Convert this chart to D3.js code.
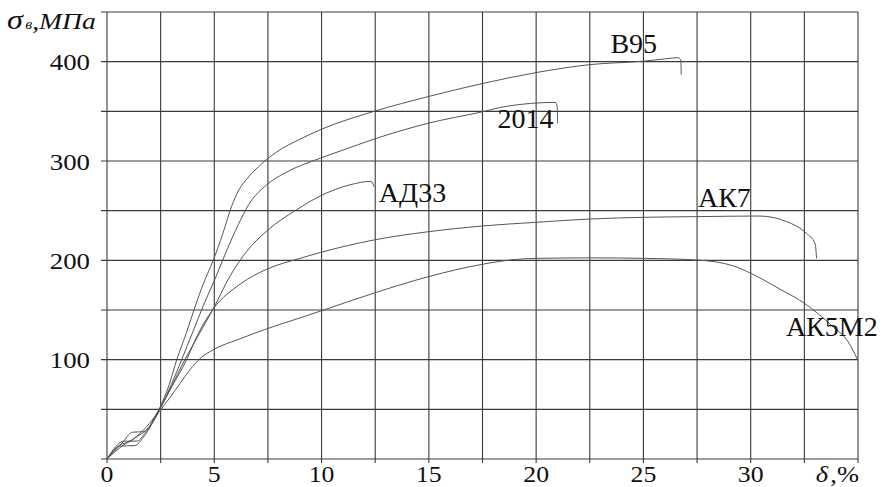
<!DOCTYPE html>
<html>
<head>
<meta charset="utf-8">
<script src="https://cdn.jsdelivr.net/npm/d3@7"></script>
<style>
  body { margin: 0; background: #fff; }
  text { font-family: "Liberation Serif", "DejaVu Serif", serif; fill: #111; }
</style>
</head>
<body>
<div id="chart"></div>
<script>
const width = 886, height = 487;
const margin = { top: 12, right: 28, bottom: 28, left: 107 };

// tick values
const xTicks = [0, 5, 10, 15, 20, 25, 30];
const yTicks = [100, 200, 300, 400];

// curves: [δ %, σв MPa]
const b95 = [[0,0],[0.7,16],[1.2,27],[1.7,27.5],[2.3,45],[2.9,75],[3.25,100],[3.7,127],[4.1,153],[4.5,177],[4.95,200],[5.4,227],[5.8,254],[6.15,271],[6.6,284],[7.2,297],[7.9,309],[9,322],[10,332],[12.45,350],[15,365],[17.5,378],[20,389],[22.5,397],[25,400.5],[26.1,403],[26.6,404],[26.74,402],[26.76,387]];
const al2014 = [[0,0],[0.6,13],[1.3,13.5],[1.7,22],[2.45,50],[3.0,75],[3.48,100],[4.0,128],[4.5,155],[5.03,181],[5.58,210],[6.12,236],[6.6,256],[7.44,276],[8.3,288],[9.96,303],[11,311],[12.44,322],[14.97,338],[17.49,349.5],[18.6,355],[20.9,359],[20.98,355],[21,338]];
const ad33 = [[0,0],[0.8,18],[1.4,18],[1.8,27],[2.45,50],[3.0,73],[3.63,100],[4.3,126],[4.97,152],[5.73,184],[6.51,209],[7.47,230],[8.84,251],[9.96,265],[11.32,276],[12.3,279.5],[12.45,274]];
const ak7 = [[0,0],[0.6,14],[1.1,18],[1.5,25],[2.45,50],[3.0,72],[3.71,100],[4.2,124],[4.95,151],[6.2,176],[7.44,191],[8.99,202],[9.96,208],[12.44,220.5],[14.97,228.8],[17.49,234.6],[20.02,238.3],[22.5,241.6],[25,243.3],[27.5,244],[30.4,244.6],[31.67,239],[32.6,227],[33.0,217],[33.07,202]];
const ak5m2 = [[0,0],[0.7,13],[1.2,20],[2.0,33],[2.45,48],[2.94,62],[3.4,76],[3.87,90],[4.33,101],[4.95,110],[6.2,121],[7.44,131],[8.99,142],[9.96,149],[12.44,167],[14.97,183.5],[17.49,196],[19.09,201],[20.02,202],[22.5,202.5],[25,202],[27.5,200.3],[29.2,194.3],[30,187],[31.36,171],[32.49,157],[33.84,133],[34.54,118],[34.98,100]];

// curve labels and where they sit
const seriesNames = ['В95', '2014', 'АД33', 'АК7', 'АК5М2'];
const labelPos = [[24.55, 409], [19.5, 333], [12.67, 259], [27.54, 254], [31.64, 124]];
const labelAnchor = ['middle', 'middle', 'start', 'start', 'start'];
const seriesData = [b95, al2014, ad33, ak7, ak5m2];

const svg = d3.select('#chart').append('svg').attr('width', width).attr('height', height);

const x = d3.scaleLinear().domain([0, 35]).range([margin.left, width - margin.right]);
const y = d3.scaleLinear().domain([0, 450]).range([height - margin.bottom, margin.top]);

// grid
const grid = svg.append('g').attr('stroke', '#3a3a3a').attr('stroke-width', 1.1);
grid.selectAll('line.v').data(d3.range(0, 35.01, 2.5)).enter().append('line')
    .attr('x1', d => x(d)).attr('x2', d => x(d))
    .attr('y1', y(450)).attr('y2', y(0) + 4);
grid.selectAll('line.h').data(d3.range(0, 450.01, 50)).enter().append('line')
    .attr('x1', x(0) - 6).attr('x2', x(35))
    .attr('y1', d => y(d)).attr('y2', d => y(d));

// curves
const line = d3.line()
    .x(d => x(d[0]))
    .y(d => y(d[1]))
    .curve(d3.curveMonotoneX);

svg.selectAll('path.curve').data(seriesData).enter().append('path')
    .attr('class', 'curve')
    .attr('fill', 'none')
    .attr('stroke', '#555')
    .attr('stroke-width', 1)
    .attr('d', line);

// tick labels
svg.selectAll('text.yt').data(yTicks).enter().append('text')
    .attr('transform', d => 'translate(' + 90 + ',' + (y(d) + 8.5) + ') scale(1.12,1)')
    .attr('text-anchor', 'end')
    .style('font-size', '24px')
    .text(d => d);

svg.selectAll('text.xt').data(xTicks).enter().append('text')
    .attr('transform', d => 'translate(' + x(d) + ',' + 482 + ') scale(1.12,1)')
    .attr('text-anchor', 'middle')
    .style('font-size', '23px')
    .text(d => d);

// axis titles
const xTitle = svg.append('text')
    .attr('transform', 'translate(' + 859 + ',' + 482 + ') scale(1.15,1)')
    .attr('text-anchor', 'end')
    .style('font-size', '23px')
    .style('font-style', 'italic');
xTitle.append('tspan').text('δ');
xTitle.append('tspan').attr('font-style', 'normal').attr('dx', 2).text(',%');

const yTitle = svg.append('text')
    .attr('transform', 'translate(7,29) scale(1.15,1)')
    .style('font-style', 'italic');
yTitle.append('tspan').style('font-size', '28px').text('σ');
yTitle.append('tspan').style('font-size', '14px').attr('dx', 2).text('в');
yTitle.append('tspan').style('font-size', '24px').text(',МПа');

// curve labels
svg.selectAll('text.lbl').data(seriesNames).enter().append('text')
    .attr('x', (d, i) => x(labelPos[i][0]))
    .attr('y', (d, i) => y(labelPos[i][1]))
    .attr('text-anchor', (d, i) => labelAnchor[i])
    .style('font-size', '28px')
    .text(d => d);
</script>
</body>
</html>
